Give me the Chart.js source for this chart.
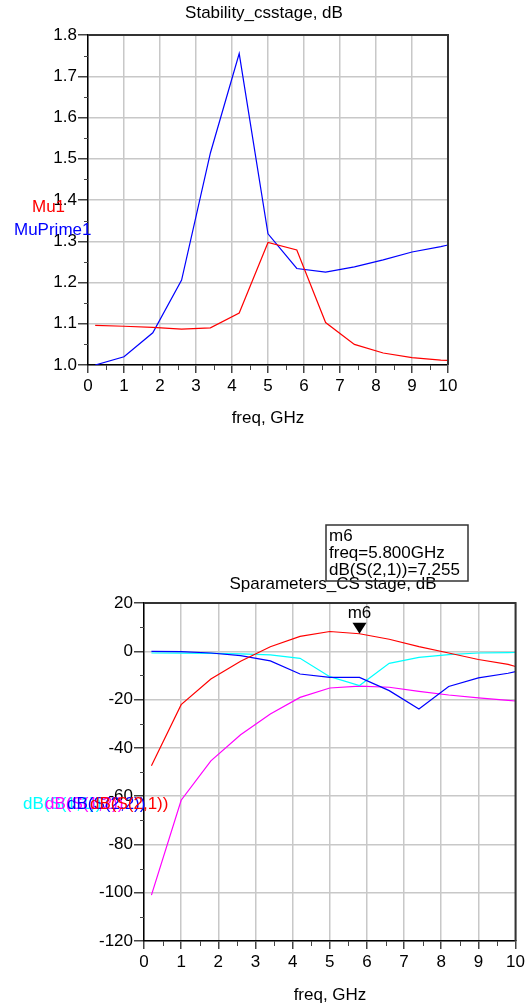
<!DOCTYPE html>
<html>
<head>
<meta charset="utf-8">
<script src="https://cdn.jsdelivr.net/npm/chart.js@4.4.0/dist/chart.umd.min.js"></script>
<style>
    body { margin: 0; background: #fff; }
    #wrap { position: relative; width: 528px; height: 1003px; }
    canvas { position: absolute; left: 0; }
</style>
</head>
<body>
<div id="wrap">
    <canvas id="stabilityChart" width="528" height="440" style="top:0px"></canvas>
    <canvas id="sparamChart" width="528" height="503" style="top:500px"></canvas>
</div>
<script>
// frequency sweep, GHz
var freqs = [0.2, 1.0, 1.8, 2.6, 3.4, 4.2, 5.0, 5.8, 6.6, 7.4, 8.2, 9.0, 9.8, 10.0];

// Stability_csstage
var mu1      = [1.096, 1.094, 1.091, 1.087, 1.090, 1.126, 1.297, 1.279, 1.103, 1.050, 1.029, 1.018, 1.012, 1.011];
var muPrime1 = [1.000, 1.020, 1.078, 1.206, 1.514, 1.755, 1.318, 1.234, 1.225, 1.238, 1.255, 1.274, 1.287, 1.291];

// Sparameters_CS stage (dB)
var s21 = [-47.4, -22.1, -11.5, -4.1, 1.9, 6.2, 8.2, 7.255, 5.0, 1.9, -0.7, -3.4, -5.4, -6.3];
var s11 = [-0.7, -0.8, -0.9, -1.1, -1.5, -2.9, -10.5, -14.2, -5.0, -2.5, -1.4, -0.7, -0.55, -0.5];
var s22 = [0.0, -0.1, -0.7, -1.8, -4.0, -9.4, -10.8, -10.8, -16.3, -23.9, -14.6, -11.0, -9.1, -8.4];
var s12 = [-101, -61.7, -45.4, -34.6, -26.0, -19.1, -15.2, -14.4, -14.9, -16.6, -18.1, -19.3, -20.3, -20.6];

var markerName = "m6";
var markerFreq = 5.8;

Chart.defaults.font.family = "'Liberation Sans', Arial, sans-serif";
Chart.defaults.font.size = 17;
Chart.defaults.color = "#000";

function points(ys)
{
    var out = [];
    for (var i = 0; i < freqs.length; i++)
    {
        out.push({x: freqs[i], y: ys[i]});
    }
    return out;
}

function trace(label, ys, color)
{
    return {
        label: label,
        data: points(ys),
        borderColor: color,
        borderWidth: 1.2,
        pointRadius: 0,
        tension: 0,
        fill: false
    };
}

function makeScales(yMin, yMax, yStep, yWidth, xHeight, yFormat)
{
    return {
        x: {
            type: "linear", min: 0, max: 10,
            ticks: { stepSize: 1, padding: 3, autoSkip: false, maxRotation: 0, color: "#000" },
            grid: { color: "#c8c8c8", lineWidth: 1.5, tickColor: "#444", tickLength: 8 },
            border: { color: "#000", width: 1.5 },
            afterFit: function (scale) { scale.height = xHeight; }
        },
        y: {
            type: "linear", min: yMin, max: yMax,
            ticks: { stepSize: yStep, padding: 1, autoSkip: false, color: "#000", callback: yFormat },
            grid: { color: "#c8c8c8", lineWidth: 1.5, tickColor: "#444", tickLength: 10 },
            border: { color: "#000", width: 1.5 },
            afterFit: function (scale) { scale.width = yWidth; }
        }
    };
}

// frame on top/right, minor ticks and free text
var decorations = {
    id: "decorations",
    afterDraw: function (chart, args, opts)
    {
        var ctx = chart.ctx;
        var a = chart.chartArea;
        var xs = chart.scales.x;
        var ys = chart.scales.y;
        ctx.save();
        ctx.strokeStyle = "#333";
        ctx.lineWidth = 2;
        ctx.beginPath();
        ctx.moveTo(a.left, a.top);
        ctx.lineTo(a.right, a.top);
        ctx.lineTo(a.right, a.bottom);
        ctx.stroke();

        ctx.strokeStyle = "#444";
        ctx.lineWidth = 1;
        ctx.beginPath();
        for (var v = 0.5; v < 10; v += 1)
        {
            var px = Math.round(xs.getPixelForValue(v)) + 0.5;
            ctx.moveTo(px, a.bottom);
            ctx.lineTo(px, a.bottom + 5);
        }
        for (var w = opts.yMin + opts.yStep / 2; w < opts.yMax; w += opts.yStep)
        {
            var py = Math.round(ys.getPixelForValue(w)) + 0.5;
            ctx.moveTo(a.left - 4, py);
            ctx.lineTo(a.left, py);
        }
        ctx.stroke();

        ctx.textBaseline = "middle";
        opts.texts.forEach(function (t) {
            ctx.font = "17px 'Liberation Sans', Arial, sans-serif";
            ctx.fillStyle = t.color || "#000";
            ctx.textAlign = t.align || "center";
            ctx.fillText(t.text, t.x, t.y);
        });
        ctx.restore();
    }
};

// marker m6 on dB(S(2,1))
var markerPlugin = {
    id: "markerPlugin",
    afterDraw: function (chart)
    {
        var ctx = chart.ctx;
        var idx = freqs.indexOf(markerFreq);
        var val = s21[idx];
        var px = chart.scales.x.getPixelForValue(markerFreq);
        var py = chart.scales.y.getPixelForValue(val);
        ctx.save();
        ctx.fillStyle = "#000";
        ctx.beginPath();
        ctx.moveTo(px, py);
        ctx.lineTo(px - 7, py - 11);
        ctx.lineTo(px + 7, py - 11);
        ctx.closePath();
        ctx.fill();
        ctx.font = "17px 'Liberation Sans', Arial, sans-serif";
        ctx.textAlign = "center";
        ctx.textBaseline = "middle";
        ctx.fillText(markerName, px, py - 20);

        // readout box
        ctx.strokeStyle = "#333";
        ctx.lineWidth = 1.5;
        ctx.strokeRect(326, 25, 142, 56);
        ctx.textAlign = "left";
        ctx.fillText(markerName, 329, 36);
        ctx.fillText("freq=" + markerFreq.toFixed(3) + "GHz", 329, 53);
        ctx.fillText("dB(S(2,1))=" + val.toFixed(3), 329, 70);
        ctx.restore();
    }
};

var stabilityChart = new Chart(document.getElementById("stabilityChart"), {
    type: "line",
    data: {
        datasets: [
            trace("Mu1", mu1, "#ff0000"),
            trace("MuPrime1", muPrime1, "#0000ff")
        ]
    },
    options: {
        responsive: false,
        animation: false,
        layout: { padding: { top: 35, right: 80, left: 0, bottom: 0 } },
        scales: makeScales(1.0, 1.8, 0.1, 88, 75, function (v) { return v.toFixed(1); }),
        plugins: {
            legend: { display: false },
            tooltip: { enabled: false },
            decorations: {
                yMin: 1.0, yMax: 1.8, yStep: 0.1,
                texts: [
                    { text: "Stability_csstage, dB", x: 264, y: 13 },
                    { text: "freq, GHz", x: 268, y: 418 },
                    { text: "Mu1", x: 32, y: 207, align: "left", color: "#ff0000" },
                    { text: "MuPrime1", x: 14, y: 230, align: "left", color: "#0000ff" }
                ]
            }
        }
    },
    plugins: [decorations]
});

var sparamChart = new Chart(document.getElementById("sparamChart"), {
    type: "line",
    data: {
        datasets: [
            trace("dB(S(2,1))", s21, "#ff0000"),
            trace("dB(S(2,2))", s22, "#0000ff"),
            trace("dB(S(1,1))", s11, "#00ffff"),
            trace("dB(S(1,2))", s12, "#ff00ff")
        ]
    },
    options: {
        responsive: false,
        animation: false,
        layout: { padding: { top: 103, right: 11, left: 0, bottom: 0 } },
        scales: makeScales(-120, 20, 20, 144, 62, function (v) { return String(v); }),
        plugins: {
            legend: { display: false },
            tooltip: { enabled: false },
            decorations: {
                yMin: -120, yMax: 20, yStep: 20,
                texts: [
                    { text: "Sparameters_CS stage, dB", x: 333, y: 84 },
                    { text: "freq, GHz", x: 330, y: 495 },
                    { text: "dB(S(1,1))", x: 23, y: 304, align: "left", color: "#00ffff" },
                    { text: "dB(S(1,2))", x: 45, y: 304, align: "left", color: "#ff00ff" },
                    { text: "dB(S(2,2))", x: 67, y: 304, align: "left", color: "#0000ff" },
                    { text: "dB(S(2,1))", x: 90, y: 304, align: "left", color: "#ff0000" }
                ]
            }
        }
    },
    plugins: [decorations, markerPlugin]
});
</script>
</body>
</html>
